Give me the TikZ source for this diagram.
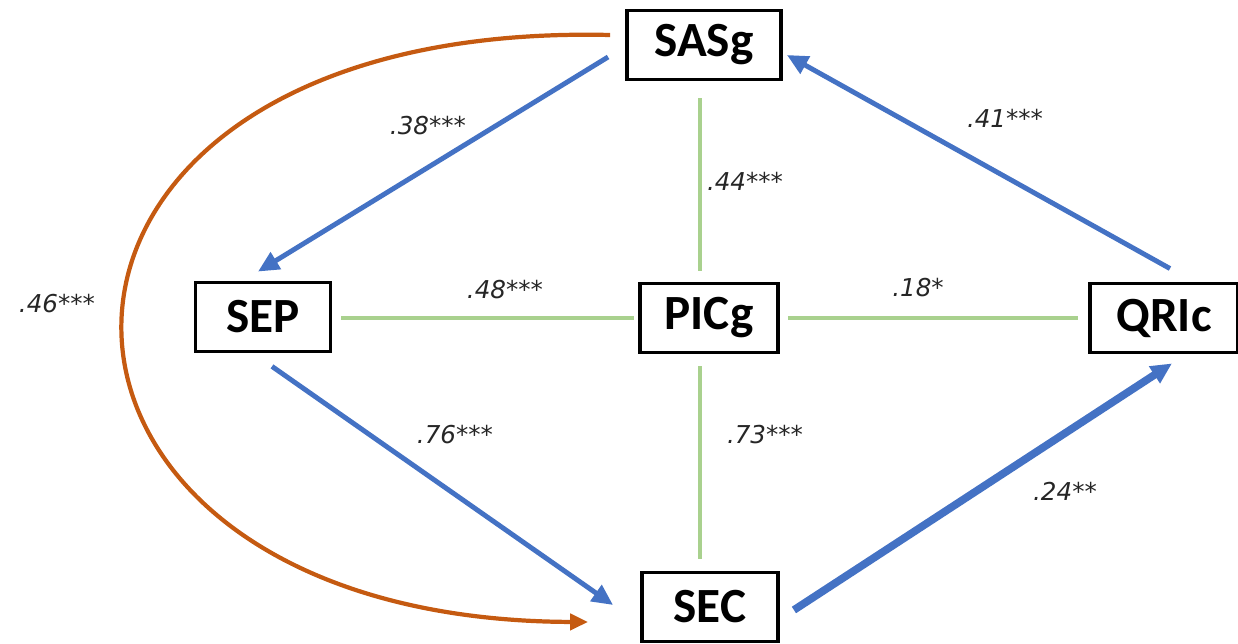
\documentclass[tikz,border=0pt]{standalone}
\usepackage{fontspec}
\setmainfont{Carlito}
\newfontfamily\coeffont{DejaVu Sans}
\usetikzlibrary{arrows.meta}
\definecolor{regblue}{HTML}{4472C4}
\definecolor{covorange}{HTML}{C55A11}
\definecolor{corgreen}{HTML}{A9D18E}
\definecolor{coefgray}{HTML}{262626}
\tikzset{
  var/.style={draw, line width=2.2pt, minimum height=1.38cm, inner sep=0pt,
    font=\fontsize{28}{30}\selectfont\bfseries},
  regr/.style={regblue, line width=2.8pt, -{Triangle[length=0.42cm, width=0.38cm]}},
  corr/.style={corgreen, line width=2.6pt},
  cov/.style={covorange, line width=2.4pt, -{Triangle[length=0.36cm, width=0.32cm]}},
  coef/.style={coefgray, font=\coeffont\itshape\fontsize{14}{16}\selectfont}
}
\begin{document}
\begin{tikzpicture}[x=0.02cm, y=-0.02cm]
\useasboundingbox (0,0) rectangle (1238,644);
% variables
\node[var, minimum width=3.08cm] (sasg) at (704,45) {SASg};
\node[var, minimum width=2.7cm] (sep) at (263,317) {SEP};
\node[var, minimum width=2.76cm] (picg) at (709,318) {PICg};
\node[var, minimum width=2.96cm] (qric) at (1164,318) {QRIc};
\node[var, minimum width=2.72cm] (sec) at (710,607) {SEC};
% regressions
\draw[regr] ([shift={(-17,12)}]sasg.west) -- ([shift={(-5,-9)}]sep.north);
\draw[regr] ([shift={(6,-13)}]qric.north) -- ([shift={(4,10)}]sasg.east);
\draw[regr] ([shift={(9,13)}]sep.south) -- ([shift={(-27,-2)}]sec.west);
\draw[regr, line width=4.4pt] ([shift={(14,3)}]sec.east) -- ([shift={(8,9)}]qric.south);
% correlations
\draw[corr] ([shift={(-4,17)}]sasg.south) -- ([shift={(-9,-11)}]picg.north);
\draw[corr] ([shift={(9,1)}]sep.east) -- ([shift={(-4,0)}]picg.west);
\draw[corr] ([shift={(8,0)}]picg.east) -- ([shift={(-10,0)}]qric.west);
\draw[corr] ([shift={(-9,12)}]picg.south) -- ([shift={(-10,-12)}]sec.north);
% covariance
\draw[cov] ([shift={(-15,-10)}]sasg.west) .. controls (-40,20) and (-30,620) .. ([shift={(-52,15)}]sec.west);
% coefficients
\node[coef] (c38) at (428,126) {.38***};
\node[coef] (c44) at (745,181) {.44***};
\node[coef] (c41) at (1005,118) {.41***};
\node[coef] (c48) at (505,290) {.48***};
\node[coef] (c18) at (918,288) {.18*};
\node[coef] (c46) at (57,304) {.46***};
\node[coef] (c76) at (455,435) {.76***};
\node[coef] (c73) at (765,435) {.73***};
\node[coef] (c24) at (1065,491) {.24**};
\end{tikzpicture}
\end{document}
